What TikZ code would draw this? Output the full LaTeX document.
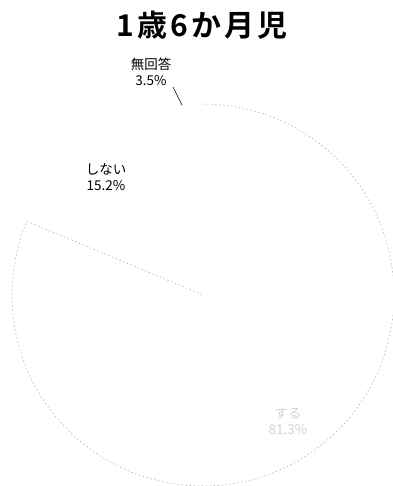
\documentclass[tikz,border=0pt]{standalone}
\usepackage{fontspec}
\newfontfamily\jp{Noto Sans CJK JP}
\newfontfamily\jpb{Noto Sans CJK JP Bold}
\usetikzlibrary{calc}
\begin{document}
\begin{tikzpicture}[x=1pt,y=1pt,
  lbl/.style={inner sep=0pt,font=\jp\fontsize{13.5}{17}\selectfont,align=center,text=black},
  pieline/.style={draw=gray!70,line width=0.5pt,dash pattern=on 1.5pt off 2.5pt}]
\useasboundingbox (0,0) rectangle (392,486);
\coordinate (c) at (203,191);
% pie slice (suru) outline
\draw[pieline] ($(c)+(90:191)$) arc[start angle=90,end angle=-202.7,radius=191] -- (c);
% title
\node[inner sep=0pt,font=\jpb\fontsize{30}{34}\selectfont] (title) at (202,461)
  {1\hspace{4pt}歳\hspace{3pt}6\hspace{3pt}か\hspace{3pt}月\hspace{3pt}児};
% labels
\node[lbl] (mukaito) at (151,414) {無回答\\[-1pt]3.5\%};
\node[lbl] (shinai) at (106,309) {しない\\[-1pt]15.2\%};
\node[lbl,text=gray!35] (suru) at (288,65) {する\\[-1pt]81.3\%};
% leader
\coordinate (ls) at (173,399);
\coordinate (le) at ($(c)+(96.3:191)$);
\draw[line width=0.6pt] (ls) -- (le);
\end{tikzpicture}
\end{document}
